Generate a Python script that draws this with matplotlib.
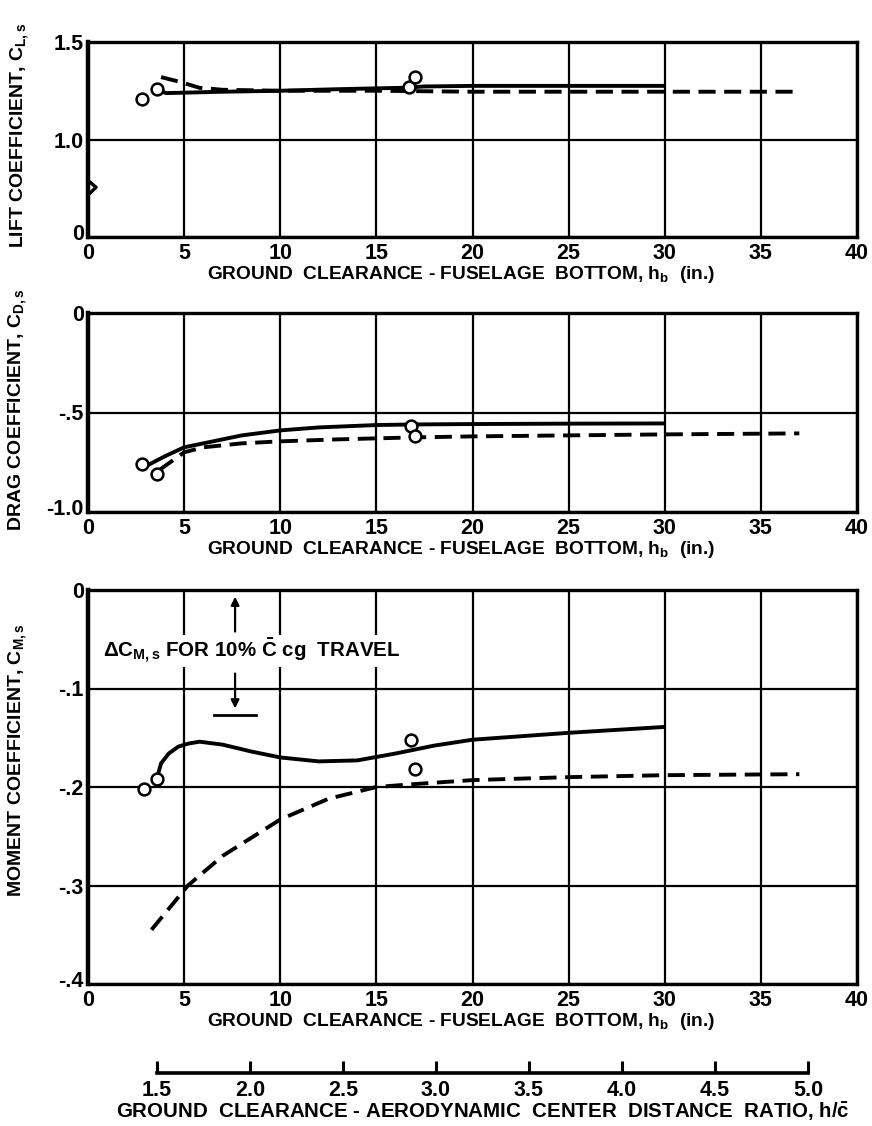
import matplotlib
matplotlib.use("Agg")
import matplotlib.pyplot as plt
from matplotlib import font_manager
import matplotlib.transforms as mtransforms

# ---------------------------------------------------------------------------
# Data
# ---------------------------------------------------------------------------
x_ticks = [0, 5, 10, 15, 20, 25, 30, 35, 40]
x_tick_labels = ["0", "5", "10", "15", "20", "25", "30", "35", "40"]

# lift coefficient (lower part of axis is broken: "0" sits where 0.5 would be)
lift_ticks = [0.5, 1.0, 1.5]
lift_tick_labels = ["0", "1.0", "1.5"]
lift_solid_x = [3.6, 4.1, 7, 10, 13, 16.3, 17.5, 20, 25, 30]
lift_solid_y = [1.25, 1.238, 1.245, 1.25, 1.258, 1.265, 1.272, 1.275, 1.275, 1.275]
lift_dash_x = [3.8, 4.8, 5.8, 7, 10, 15, 17, 20, 25, 30, 37]
lift_dash_y = [1.32, 1.295, 1.265, 1.255, 1.25, 1.25, 1.248, 1.245, 1.245, 1.245, 1.245]
lift_pts_x = [2.8, 3.6, 16.7, 17.0]
lift_pts_y = [1.21, 1.26, 1.27, 1.32]

# drag coefficient
drag_ticks = [-1.0, -0.5, 0]
drag_tick_labels = ["-1.0", "-.5", "0"]
drag_solid_x = [3.0, 4, 5, 6.5, 8, 10, 12, 15, 17, 20, 25, 30]
drag_solid_y = [-0.77, -0.72, -0.675, -0.645, -0.615, -0.59, -0.575, -0.563, -0.56, -0.558, -0.556, -0.555]
drag_dash_x = [3.7, 5, 6, 8, 10, 13, 17, 20, 25, 30, 37]
drag_dash_y = [-0.79, -0.70, -0.675, -0.655, -0.645, -0.635, -0.625, -0.62, -0.615, -0.61, -0.605]
drag_pts_x = [2.8, 3.6, 16.8, 17.0]
drag_pts_y = [-0.76, -0.81, -0.57, -0.62]

# pitching moment coefficient
mom_ticks = [-0.4, -0.3, -0.2, -0.1, 0]
mom_tick_labels = ["-.4", "-.3", "-.2", "-.1", "0"]
mom_solid_x = [3.6, 3.8, 4.2, 4.7, 5.2, 5.8, 7, 8.5, 10, 12, 14, 16, 18, 20, 25, 30]
mom_solid_y = [-0.19, -0.176, -0.166, -0.159, -0.156, -0.154, -0.157, -0.164, -0.170, -0.174,
               -0.173, -0.166, -0.158, -0.152, -0.145, -0.139]
mom_dash_x = [3.3, 5.2, 7, 10, 12.5, 15, 17, 20, 25, 30, 37]
mom_dash_y = [-0.345, -0.30, -0.27, -0.233, -0.212, -0.200, -0.197, -0.193, -0.190, -0.188, -0.187]
mom_pts_x = [2.9, 3.6, 16.8, 17.0]
mom_pts_y = [-0.202, -0.192, -0.152, -0.182]

# cg travel bracket
cg_x = 7.65
cg_top = 0.0
cg_bottom = -0.127

# secondary scale h / c-bar
ratio_ticks = [1.5, 2.0, 2.5, 3.0, 3.5, 4.0, 4.5, 5.0]
ratio_tick_labels = ["1.5", "2.0", "2.5", "3.0", "3.5", "4.0", "4.5", "5.0"]

# ---------------------------------------------------------------------------
# Style
# ---------------------------------------------------------------------------
names = {f.name for f in font_manager.fontManager.ttflist}
main_font = "Liberation Sans" if "Liberation Sans" in names else "DejaVu Sans"
plt.rcParams["font.family"] = [main_font, "DejaVu Sans"]
plt.rcParams["font.weight"] = "bold"
plt.rcParams["axes.labelweight"] = "bold"
plt.rcParams["mathtext.fontset"] = "custom"
plt.rcParams["mathtext.rm"] = main_font + ":bold"
plt.rcParams["mathtext.it"] = main_font + ":bold"
plt.rcParams["mathtext.bf"] = main_font + ":bold"

W, H = 872, 1126
fig = plt.figure(figsize=(W / 100, H / 100), dpi=100)
fig.patch.set_facecolor("white")

TICK_FS = 15.5
LABEL_FS = 13.8
LW_CURVE = 2.8
DASH = (4.4, 2.2)
X_LABEL = r"GROUND  CLEARANCE - FUSELAGE  BOTTOM, h$_\mathrm{b}$  (in.)"


def px_axes(left, top, right, bottom):
    return fig.add_axes([left / W, 1 - bottom / H, (right - left) / W, (bottom - top) / H])


def style_panel(ax, yticks, ylabels, ylim):
    ax.set_xlim(0, 40)
    ax.set_ylim(*ylim)
    ax.set_xticks(x_ticks)
    ax.set_xticklabels(x_tick_labels, fontsize=TICK_FS)
    ax.set_yticks(yticks)
    ax.set_yticklabels(ylabels, fontsize=TICK_FS)
    ax.tick_params(axis="x", length=0, pad=4)
    ax.tick_params(axis="y", length=0, pad=3)
    # lowest y label sits a little above the bottom spine, as in the original
    lift_up = mtransforms.ScaledTranslation(0, 5 / 100, fig.dpi_scale_trans)
    lbl = ax.get_yticklabels()[0]
    lbl.set_transform(lbl.get_transform() + lift_up)
    ax.grid(True, color="black", linewidth=1.6)
    for s in ax.spines.values():
        s.set_linewidth(2.4)
    ax.spines["left"].set_linewidth(3.2)
    ax.set_axisbelow(True)
    ax.set_xlabel(X_LABEL, fontsize=LABEL_FS, labelpad=0)
    ax.xaxis.set_label_coords(0.485, -0.14 * 195 / (ax.get_position().height * H))


def draw_series(ax, sx, sy, dx, dy, px, py):
    ax.plot(sx, sy, color="black", linewidth=LW_CURVE, solid_capstyle="butt")
    ax.plot(dx, dy, color="black", linewidth=LW_CURVE, linestyle=(0, DASH))
    ax.plot(px, py, linestyle="none", marker="o", markersize=8.5,
            markerfacecolor="white", markeredgecolor="black", markeredgewidth=1.8, zorder=5)


# ---------------------------------------------------------------------------
# Lift
# ---------------------------------------------------------------------------
ax1 = px_axes(88, 42, 857, 237)
style_panel(ax1, lift_ticks, lift_tick_labels, (0.5, 1.5))
draw_series(ax1, lift_solid_x, lift_solid_y, lift_dash_x, lift_dash_y, lift_pts_x, lift_pts_y)
# axis break mark on the left spine
ax1.plot([0, 0.42, 0], [0.79, 0.755, 0.715], color="black", linewidth=2.4,
         clip_on=False, zorder=6)
fig.text(20 / W, 1 - 135 / H, r"LIFT COEFFICIENT, C$_\mathrm{L,s}$", rotation=90,
         ha="center", va="center", fontsize=14)

# ---------------------------------------------------------------------------
# Drag
# ---------------------------------------------------------------------------
ax2 = px_axes(88, 313, 857, 512)
style_panel(ax2, drag_ticks, drag_tick_labels, (-1.0, 0))
draw_series(ax2, drag_solid_x, drag_solid_y, drag_dash_x, drag_dash_y, drag_pts_x, drag_pts_y)
fig.text(18 / W, 1 - 410 / H, r"DRAG COEFFICIENT, C$_\mathrm{D,s}$", rotation=90,
         ha="center", va="center", fontsize=14)

# ---------------------------------------------------------------------------
# Moment
# ---------------------------------------------------------------------------
ax3 = px_axes(88, 590, 857, 984)
style_panel(ax3, mom_ticks, mom_tick_labels, (-0.4, 0))
draw_series(ax3, mom_solid_x, mom_solid_y, mom_dash_x, mom_dash_y, mom_pts_x, mom_pts_y)
fig.text(18 / W, 1 - 760 / H, r"MOMENT COEFFICIENT, C$_\mathrm{M,s}$", rotation=90,
         ha="center", va="center", fontsize=14)

# cg travel dimension
ax3.annotate("", xy=(cg_x, cg_top - 0.004), xytext=(cg_x, -0.045),
             arrowprops=dict(arrowstyle="-|>", color="black", lw=1.6, mutation_scale=12))
ax3.annotate("", xy=(cg_x, cg_bottom + 0.004), xytext=(cg_x, -0.082),
             arrowprops=dict(arrowstyle="-|>", color="black", lw=1.6, mutation_scale=12))
ax3.plot([cg_x - 1.1, cg_x + 1.1], [cg_bottom, cg_bottom], color="black", linewidth=2)
ax3.text(0.8, -0.062, r"ΔC$_\mathrm{M,s}$ FOR 10% $\bar{\mathrm{C}}$ cg  TRAVEL",
         fontsize=14.8, ha="left", va="center",
         bbox=dict(facecolor="white", edgecolor="none", pad=1))

# ---------------------------------------------------------------------------
# Secondary scale
# ---------------------------------------------------------------------------
ax4 = px_axes(157, 1060, 808, 1073)
ax4.set_xlim(1.5, 5.0)
ax4.set_ylim(0, 1)
for side in ["top", "left", "right"]:
    ax4.spines[side].set_visible(False)
ax4.spines["bottom"].set_linewidth(2.6)
ax4.set_yticks([])
ax4.set_xticks(ratio_ticks)
ax4.set_xticklabels(ratio_tick_labels, fontsize=TICK_FS)
ax4.tick_params(axis="x", direction="in", length=9, width=2.2, pad=5)
ax4.patch.set_alpha(0)
ax4.set_xlabel(r"GROUND  CLEARANCE - AERODYNAMIC  CENTER  DISTANCE  RATIO, h/$\bar{\mathrm{c}}$",
               fontsize=14.8, labelpad=0)

fig.savefig("out.png", dpi=100, facecolor="white")
